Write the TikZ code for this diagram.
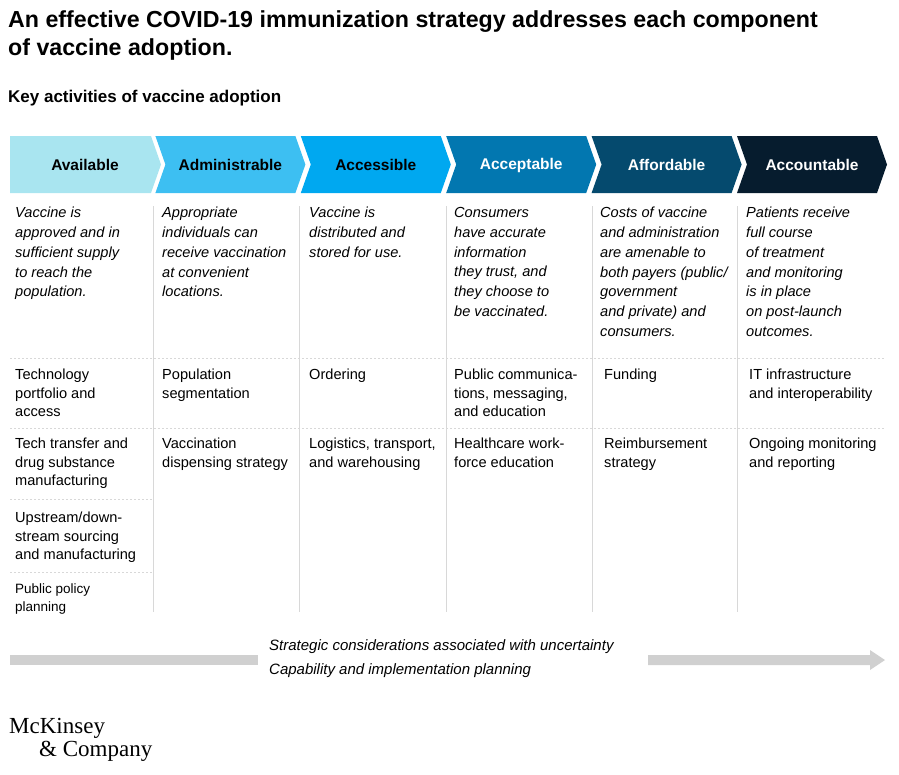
\documentclass[tikz,border=0pt]{standalone}
\usepackage{fontspec}
\setmainfont{Liberation Sans}
\newfontfamily\logofont{Liberation Serif}
\definecolor{cA}{HTML}{A9E5F0}
\definecolor{cB}{HTML}{3DBFF2}
\definecolor{cC}{HTML}{00A8F0}
\definecolor{cD}{HTML}{0277B0}
\definecolor{cE}{HTML}{054A6E}
\definecolor{cF}{HTML}{061C2E}
\definecolor{sep}{HTML}{D8D8D8}
\definecolor{bar}{HTML}{D0D0D0}
\tikzset{
  head/.style={font=\fontsize{15.5}{18}\selectfont\bfseries},
  desc/.style={anchor=north west, align=left, inner sep=0pt, font=\fontsize{14.6}{19.8}\selectfont\itshape},
  item/.style={anchor=north west, align=left, inner sep=0pt, font=\fontsize{14.6}{18.6}\selectfont},
  vsep/.style={draw=sep, line width=0.8pt},
  hsep/.style={draw=sep, line width=0.8pt, dash pattern=on 2pt off 2pt},
}
\begin{document}
\begin{tikzpicture}[x=1pt,y=-1pt]
\useasboundingbox (0,0) rectangle (899,774);
\node[anchor=north west, inner sep=0pt, align=left, font=\fontsize{23.2}{28}\selectfont\bfseries] (title) at (8,10) {An effective COVID-19 immunization strategy addresses each component\\of vaccine adoption.};
\node[anchor=north west, inner sep=0pt, font=\fontsize{17}{20}\selectfont\bfseries] (sub) at (8,90) {Key activities of vaccine adoption};
% chevrons
\foreach \i/\c/\t/\tc in {0/cA/Available/black,1/cB/Administrable/black,2/cC/Accessible/black,3/cD/Acceptable/white,4/cE/Affordable/white,5/cF/Accountable/white}{
  \pgfmathsetmacro{\x}{10+145.4*\i}
  \ifnum\i=0
    \fill[\c] (\x,136) -- (\x+141,136) -- (\x+151,164.5) -- (\x+141,193) -- (\x,193) -- cycle;
  \else
    \fill[\c] (\x,136) -- (\x+140,136) -- (\x+150,164.5) -- (\x+140,193) -- (\x,193) -- (\x+10,164.5) -- cycle;
  \fi
  \node[head, text=\tc] (h\i) at (\x+75,165) {\t};
}
% separators
\foreach \x/\n in {153/a,299/b,446/c,592/d,737/e}{
  \coordinate (st\n) at (\x,206); \coordinate (en\n) at (\x,612);
  \draw[vsep] (st\n) -- (en\n);
}
\coordinate (l1) at (10,358); \coordinate (r1) at (885,358);
\coordinate (l2) at (10,428); \coordinate (r2) at (885,428);
\coordinate (l3) at (10,499); \coordinate (r3) at (153,499);
\coordinate (l4) at (10,572); \coordinate (r4) at (153,572);
\draw[hsep] (l1) -- (r1); \draw[hsep] (l2) -- (r2);
\draw[hsep] (l3) -- (r3); \draw[hsep] (l4) -- (r4);
% descriptions
\node[desc] (d0) at (15,207) {Vaccine is\\approved and in\\sufficient supply\\to reach the\\population.};
\node[desc] (d1) at (162,207) {Appropriate\\individuals can\\receive vaccination\\at convenient\\locations.};
\node[desc] (d2) at (309,207) {Vaccine is\\distributed and\\stored for use.};
\node[desc] (d3) at (454,207) {Consumers\\have accurate\\information\\they trust, and\\they choose to\\be vaccinated.};
\node[desc] (d4) at (600,207) {Costs of vaccine\\and administration\\are amenable to\\both payers (public/\\government\\and private) and\\consumers.};
\node[desc] (d5) at (746,207) {Patients receive\\full course\\of treatment\\and monitoring\\is in place\\on post-launch\\outcomes.};
% items
\node[item] (i01) at (15,369) {Technology\\portfolio and\\access};
\node[item] (i02) at (15,438) {Tech transfer and\\drug substance\\manufacturing};
\node[item] (i03) at (15,512) {Upstream/down-\\stream sourcing\\and manufacturing};
\node[item, font=\fontsize{13.5}{17.5}\selectfont] (i04) at (15,584) {Public policy\\planning};
\node[item] (i11) at (162,369) {Population\\segmentation};
\node[item] (i12) at (162,438) {Vaccination\\dispensing strategy};
\node[item] (i21) at (309,369) {Ordering};
\node[item] (i22) at (309,438) {Logistics, transport,\\and warehousing};
\node[item] (i31) at (454,369) {Public communica-\\tions, messaging,\\and education};
\node[item] (i32) at (454,438) {Healthcare work-\\force education};
\node[item] (i41) at (604,369) {Funding};
\node[item] (i42) at (604,438) {Reimbursement\\strategy};
\node[item] (i51) at (749,369) {IT infrastructure\\and interoperability};
\node[item] (i52) at (749,438) {Ongoing monitoring\\and reporting};
% bottom arrow
\fill[bar] (10,655) rectangle (258,665);
\fill[bar] (648,655) -- (870,655) -- (870,650) -- (885,660) -- (870,670) -- (870,665) -- (648,665) -- cycle;
\node[anchor=north west, inner sep=0pt, align=left, font=\fontsize{15}{24}\selectfont\itshape] (strat) at (269,639) {Strategic considerations associated with uncertainty\\Capability and implementation planning};
% logo
\node[anchor=north west, inner sep=0pt, align=left, font=\logofont\fontsize{23}{23}\selectfont] (logo) at (9,718) {McKinsey\\\hspace*{30pt}\& Company};
\end{tikzpicture}
\end{document}
